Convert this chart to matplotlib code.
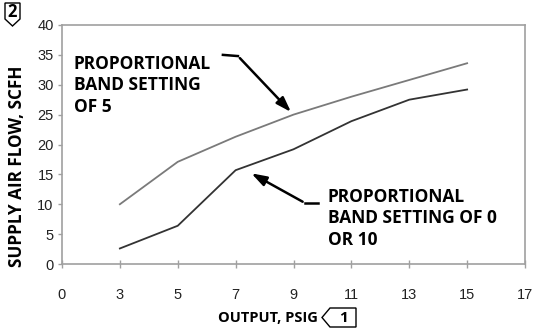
import matplotlib.pyplot as plt
from matplotlib.patches import Polygon

# output pressure categories (equally spaced on the chart)
x_labels = ["0", "3", "5", "7", "9", "11", "13", "15", "17"]
output_psig = ["3", "5", "7", "9", "11", "13", "15"]

# supply air flow, scfh
pb_5 = [10.0, 17.1, 21.3, 25.0, 28.0, 30.8, 33.6]
pb_0_10 = [2.6, 6.4, 15.7, 19.2, 23.9, 27.5, 29.2]

y_ticks = [0, 5, 10, 15, 20, 25, 30, 35, 40]

W, H = 539, 329
fig = plt.figure(figsize=(W / 100, H / 100), dpi=100)
ax = fig.add_axes([62 / W, 1 - 264 / H, (525 - 62) / W, (264 - 25) / H])

pos = [x_labels.index(v) for v in output_psig]
ax.plot(pos, pb_5, color="#7a7a7a", lw=1.3)
ax.plot(pos, pb_0_10, color="#333333", lw=1.3)

ax.set_xlim(0, len(x_labels) - 1)
ax.set_ylim(0, 40)
ax.set_xticks(range(len(x_labels)))
ax.set_xticklabels(x_labels)
ax.set_yticks(y_ticks)

for s in ax.spines.values():
    s.set_color("#a0a0a0")
    s.set_linewidth(1.2)
ax.tick_params(axis="x", direction="inout", length=6, width=1, color="#a0a0a0",
               pad=14, labelsize=10.5, labelcolor="#222222")
ax.tick_params(axis="y", direction="out", length=3, width=1, color="#a0a0a0",
               pad=3, labelsize=10.5, labelcolor="#222222")
for lab in ax.get_xticklabels() + ax.get_yticklabels():
    lab.set_family("Liberation Sans")

bold = dict(family="Open Sans", fontweight="bold", color="black")

ax.set_xlabel("OUTPUT, PSIG", fontsize=10.5, va="center", ha="right", **bold)
ax.set_ylabel("SUPPLY AIR FLOW, SCFH", fontsize=12.3, va="center", **bold)
ax.xaxis.set_label_coords(0.553, -0.226)
ax.yaxis.set_label_coords(-0.098, 0.41)

# annotations
ax.text(0.2, 35.0, "PROPORTIONAL\nBAND SETTING\nOF 5", va="top", ha="left",
        linespacing=1.25, fontsize=12.5, **bold)
ax.plot([2.78, 3.04], [35.0, 34.8], color="black", lw=1.8)
ax.annotate("", xy=(3.99, 25.1), xytext=(3.04, 34.8),
            arrowprops=dict(arrowstyle="-|>,head_length=0.9,head_width=0.3",
                            color="black", lw=1.8))

ax.text(4.59, 12.8, "PROPORTIONAL\nBAND SETTING OF 0\nOR 10", va="top", ha="left",
        linespacing=1.25, fontsize=12.5, **bold)
ax.plot([4.42, 4.2], [10.2, 10.2], color="black", lw=1.8)
ax.annotate("", xy=(3.23, 15.4), xytext=(4.2, 10.2),
            arrowprops=dict(arrowstyle="-|>,head_length=0.9,head_width=0.3",
                            color="black", lw=1.8))

# callout flags
def px(x, y):
    return (x / W, 1 - y / H)

flag2 = Polygon([px(5, 3), px(20, 3), px(20, 19), px(12.5, 26), px(5, 19)],
                closed=True, fill=False, ec="black", lw=1.0, transform=fig.transFigure)
fig.patches.append(flag2)
fig.text(*px(12.5, 12), "2", ha="center", va="center", family="Open Sans",
         fontweight="bold", fontsize=12)

flag1 = Polygon([px(330, 308), px(356, 308), px(356, 327), px(330, 327), px(322, 317.5)],
                closed=True, fill=False, ec="black", lw=1.0, transform=fig.transFigure)
fig.patches.append(flag1)
fig.text(*px(343, 317.5), "1", ha="center", va="center", family="Open Sans",
         fontweight="bold", fontsize=11)

fig.savefig("out.png", dpi=100)
